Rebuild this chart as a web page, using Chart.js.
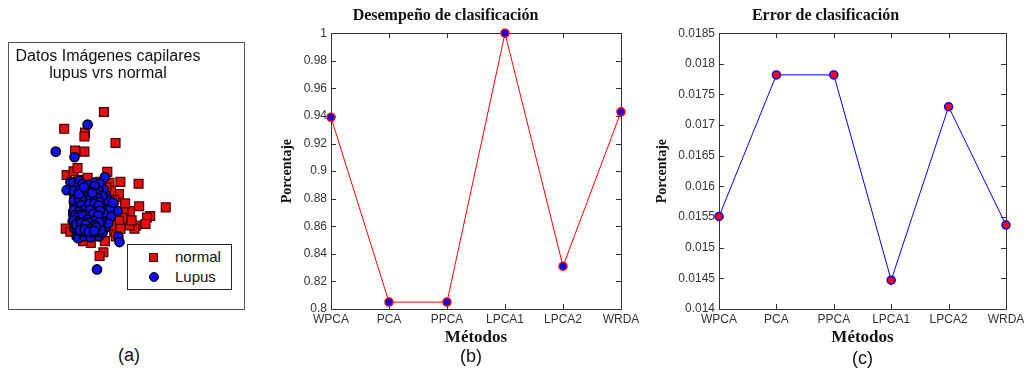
<!DOCTYPE html>
<html>
<head>
<meta charset="utf-8">
<script src="https://cdn.jsdelivr.net/npm/chart.js@4.4.1/dist/chart.umd.min.js"></script>
<style>
  body { margin: 0; background: #fff; width: 1031px; height: 375px; position: relative; overflow: hidden; font-family: "Liberation Sans", Arial, sans-serif; }
  .abs { position: absolute; }
  #boxA { left: 8px; top: 42px; width: 237px; height: 268px; border: 1px solid #555; box-sizing: border-box; }
  #titleA { left: 8px; top: 47px; width: 200px; text-align: center; font-size: 16px; line-height: 17px; color: #111; }
  #legendA { left: 127px; top: 244px; width: 105px; height: 46px; border: 1px solid #222; background: #fff; box-sizing: border-box; font-size: 15px; color: #111; }
  .lab { font-size: 18px; color: #111; }
</style>
</head>
<body>
<div id="boxA" class="abs"></div>
<canvas id="scatterA" class="abs" width="237" height="268" style="left:8px;top:42px"></canvas>
<div id="titleA" class="abs">Datos Imágenes capilares<br>lupus vrs normal</div>
<div id="legendA" class="abs">
  <span class="abs" style="left:21px;top:8px;width:9px;height:9px;background:#e01010;border:1px solid #5a0000;box-sizing:border-box"></span>
  <span class="abs" style="left:47px;top:3px">normal</span>
  <span class="abs" style="left:21px;top:27px;width:10px;height:10px;border-radius:50%;background:#1010e8;border:1px solid #000030;box-sizing:border-box"></span>
  <span class="abs" style="left:47px;top:23px">Lupus</span>
</div>
<canvas id="chartB" class="abs" width="376" height="348" style="left:270px;top:0"></canvas>
<canvas id="chartC" class="abs" width="386" height="348" style="left:645px;top:0"></canvas>
<div class="abs lab" style="left:118px;top:345px">(a)</div>
<div class="abs lab" style="left:460px;top:346px">(b)</div>
<div class="abs lab" style="left:852px;top:348px">(c)</div>

<script>
// metodos de clasificacion
const metodos = ['WPCA', 'PCA', 'PPCA', 'LPCA1', 'LPCA2', 'WRDA'];
const desempeno = [0.939, 0.805, 0.805, 1.0, 0.831, 0.943];
const errorClas = [0.01551, 0.01782, 0.01782, 0.01447, 0.0173, 0.01537];
const ticksDesempeno = [0.8, 0.82, 0.84, 0.86, 0.88, 0.9, 0.92, 0.94, 0.96, 0.98, 1];
const ticksError = [0.014, 0.0145, 0.015, 0.0155, 0.016, 0.0165, 0.017, 0.0175, 0.018, 0.0185];

// datos capilares (x, y)
const normalPts = [
  [0.72, 5.34], [-1.40, 4.45], [-0.29, 4.25], [-0.32, 4.04], [1.34, 3.70], [-0.82, 3.30],
  [-0.32, 3.24], [-1.27, 2.00], [-0.90, 2.20], [-0.69, 2.37], [0.90, 2.17], [1.60, 1.64],
  [2.57, 1.54], [0.10, 1.59], [0.52, 1.64], [1.02, 1.59], [4.02, 0.29], [3.19, -0.17],
  [3.02, -0.25], [2.94, -0.59], [2.44, -0.67], [2.35, -0.84], [2.10, -0.67], [1.94, -0.34],
  [2.10, 0.09], [1.77, 0.09], [1.69, -0.25], [1.52, -0.42], [1.44, 0.84], [1.52, 1.00],
  [1.27, 0.67], [1.02, 0.09], [1.27, -1.00], [0.02, -1.59], [0.77, -1.50], [0.69, -2.09],
  [0.49, -2.29], [-1.32, -0.84], [1.10, 1.17], [0.85, 1.34], [-1.07, -1.00], [0.35, 1.25],
  [0.60, 1.00], [1.00, 0.50], [1.20, 0.25], [0.85, -0.25], [1.10, -0.65], [0.60, -0.85],
  [-0.65, 1.75], [-0.15, 1.85], [2.60, 0.35], [1.85, 0.50], [2.20, -0.40], [1.60, -0.85],
  [-0.40, -1.50], [1.35, -1.25]
];
const lupusPts = [
  [-0.15, 4.67], [-1.85, 3.24], [-0.85, 2.95], [0.77, 1.89], [-1.07, 1.64], [-1.27, 1.20],
  [1.49, -1.25], [1.55, -1.55], [-0.74, -1.25], [-0.65, -1.34], [-0.85, -0.84], [0.35, -3.00],
  [1.02, 0.45], [1.44, 0.09], [0.44, -1.25], [-0.32, -1.25], [0.02, -1.29],
  [-0.80, 1.30], [-0.55, 1.40], [-0.30, 1.45], [0.05, 1.35], [0.35, 1.30], [-0.70, 1.05],
  [-0.45, 1.10], [-0.15, 1.15], [0.20, 1.10], [0.55, 1.05], [0.80, 0.95], [-0.85, 0.80],
  [-0.60, 0.85], [-0.35, 0.90], [-0.05, 0.85], [0.25, 0.80], [0.50, 0.75], [0.75, 0.70],
  [-0.75, 0.55], [-0.50, 0.60], [-0.25, 0.55], [0.00, 0.60], [0.30, 0.55], [0.60, 0.50],
  [0.90, 0.35], [-0.85, 0.30], [-0.60, 0.30], [-0.35, 0.25], [-0.10, 0.30], [0.15, 0.25],
  [0.40, 0.20], [0.70, 0.15], [-0.75, 0.05], [-0.50, 0.00], [-0.25, 0.05], [0.05, 0.00],
  [0.30, -0.05], [0.55, -0.10], [0.85, -0.15], [-0.85, -0.25], [-0.60, -0.20], [-0.35, -0.25],
  [-0.10, -0.20], [0.20, -0.25], [0.45, -0.30], [0.75, -0.40], [-0.70, -0.50], [-0.45, -0.45],
  [-0.20, -0.50], [0.05, -0.45], [0.30, -0.55], [0.60, -0.60], [-0.80, -0.70], [-0.55, -0.75],
  [-0.30, -0.70], [-0.05, -0.75], [0.20, -0.80], [0.45, -0.85], [0.80, -0.80], [-0.65, -0.95],
  [-0.40, -1.00], [-0.15, -0.95], [0.10, -1.05], [0.35, -1.00], [0.65, -1.05], [-0.62, 0.42],
  [-0.38, 0.68], [-0.18, -0.08], [0.12, 0.42], [-0.48, -0.62], [0.02, -0.62], [-0.28, -0.32],
  [0.28, 0.12], [-0.68, 0.18], [-0.12, 0.72], [0.38, -0.38], [-0.58, -0.38], [-0.92, 0.05],
  [-0.95, -0.45], [1.05, 0.25], [1.10, -0.20], [0.95, -0.55], [0.95, 0.65], [1.20, 0.55],
  [0.70, 1.25], [-0.90, 1.60], [-0.60, 1.70], [0.20, 1.60], [0.50, 1.55],
  [-0.72, 1.18], [-0.42, 1.25], [-0.18, 1.30], [0.12, 1.22], [0.42, 1.18], [-0.78, 0.92],
  [-0.48, 0.98], [-0.22, 1.00], [0.08, 0.98], [0.38, 0.92], [0.65, 0.88], [-0.68, 0.68],
  [-0.40, 0.48], [-0.15, 0.62], [0.15, 0.65], [0.42, 0.62], [-0.78, 0.42], [-0.50, 0.20],
  [-0.22, 0.40], [0.05, 0.45], [0.30, 0.35], [0.55, 0.30], [-0.68, -0.08], [-0.40, 0.10],
  [-0.12, 0.15], [0.18, 0.08], [0.42, 0.02], [0.68, -0.02], [-0.75, -0.38], [-0.48, -0.30],
  [-0.22, -0.38], [0.08, -0.32], [0.32, -0.22], [0.58, -0.42], [-0.62, -0.62], [-0.38, -0.58],
  [-0.12, -0.62], [0.15, -0.68], [0.42, -0.70], [-0.70, -0.85], [-0.45, -0.88], [-0.20, -0.85],
  [0.05, -0.90], [0.30, -0.92], [0.55, -0.92], [-0.88, 0.55], [-0.92, -0.10], [-0.90, 1.05],
  [-0.82, -0.55],
  [-0.66, 1.38], [-0.42, 1.52], [-0.08, 1.48], [0.22, 1.42], [-0.88, 1.18], [-0.58, 1.20],
  [-0.30, 1.22], [0.00, 1.12], [0.30, 1.05], [-0.72, 0.78], [-0.45, 0.80], [-0.20, 0.78],
  [0.10, 0.75], [0.38, 0.78], [-0.88, 0.65], [-0.60, 0.70], [-0.30, 0.65], [-0.02, 0.70],
  [0.22, 0.62], [0.48, 0.58], [-0.72, 0.30], [-0.48, 0.40], [-0.28, 0.20], [-0.05, 0.48],
  [0.20, 0.48], [0.45, 0.40], [-0.88, 0.15], [-0.62, 0.05], [-0.38, -0.08], [-0.02, 0.15],
  [0.25, -0.12], [0.50, 0.10], [-0.80, -0.12], [-0.55, -0.10], [-0.30, -0.12], [-0.05, -0.32],
  [0.15, -0.05], [0.42, -0.15], [-0.70, -0.25], [-0.42, -0.18], [-0.15, -0.35], [0.18, -0.42],
  [0.48, -0.50], [-0.88, -0.40], [-0.62, -0.48], [-0.32, -0.48], [-0.08, -0.52], [0.25, -0.68],
  [-0.75, -0.62], [-0.50, -0.55], [-0.25, -0.62], [0.00, -0.85], [0.30, -0.78], [-0.55, -0.92],
  [-0.30, -0.88], [-0.08, -1.00], [0.20, -0.95], [-0.62, 1.00], [-0.35, 1.35], [0.10, 1.05]
];

Chart.defaults.font.family = '"Liberation Sans", Arial, sans-serif';
Chart.defaults.color = '#222';

// caja y marcas hacia adentro, estilo matlab
const boxTicks = {
  id: 'boxTicks',
  beforeDatasetsDraw(chart) {
    const ctx = chart.ctx;
    const a = chart.chartArea;
    const x = chart.scales.x, y = chart.scales.y;
    ctx.save();
    ctx.strokeStyle = '#333';
    ctx.lineWidth = 1;
    ctx.strokeRect(Math.round(a.left) + 0.5, Math.round(a.top) + 0.5,
      Math.round(a.right - a.left), Math.round(a.bottom - a.top));
    ctx.beginPath();
    for (let i = 0; i < y.ticks.length; i++) {
      const py = Math.round(y.getPixelForTick(i)) + 0.5;
      ctx.moveTo(a.left, py); ctx.lineTo(a.left + 5, py);
      ctx.moveTo(a.right, py); ctx.lineTo(a.right - 5, py);
    }
    for (let i = 0; i < x.ticks.length; i++) {
      const px = Math.round(x.getPixelForTick(i)) + 0.5;
      ctx.moveTo(px, a.bottom); ctx.lineTo(px, a.bottom - 5);
      ctx.moveTo(px, a.top); ctx.lineTo(px, a.top + 5);
    }
    ctx.stroke();
    ctx.restore();
  }
};

function lineChart(id, titulo, valores, ticks, colorLinea, colorPunto, yWidth) {
  const ctx = document.getElementById(id).getContext('2d');
  return new Chart(ctx, {
    type: 'line',
    data: {
      labels: metodos,
      datasets: [{
        data: valores,
        borderColor: colorLinea,
        borderWidth: 1,
        backgroundColor: colorPunto,
        pointBackgroundColor: colorPunto,
        pointBorderColor: colorLinea,
        pointBorderWidth: 1.5,
        pointRadius: 4,
        tension: 0,
        clip: false
      }]
    },
    options: {
      responsive: false,
      animation: false,
      layout: { padding: { left: 0, right: 25, top: 0, bottom: 0 } },
      plugins: {
        legend: { display: false },
        tooltip: { enabled: false },
        title: {
          display: true,
          text: titulo,
          color: '#111',
          font: { family: '"Liberation Serif", "Times New Roman", serif', size: 16, weight: 'bold' },
          padding: { top: 6, bottom: 8 }
        }
      },
      scales: {
        x: {
          grid: { display: false, drawTicks: false },
          border: { display: false },
          ticks: { color: '#333', font: { size: 12 }, padding: 3, maxRotation: 0, autoSkip: false },
          title: {
            display: true, text: 'Métodos', color: '#111',
            font: { family: '"Liberation Serif", "Times New Roman", serif', size: 17, weight: 'bold' },
            padding: { top: 0, bottom: 0 }
          },
          afterFit: s => { s.height = 39; }
        },
        y: {
          min: ticks[0],
          max: ticks[ticks.length - 1],
          grid: { display: false, drawTicks: false },
          border: { display: false },
          afterBuildTicks: s => { s.ticks = ticks.map(v => ({ value: v })); },
          ticks: { color: '#333', font: { size: 12 }, padding: 4, callback: v => String(v) },
          title: {
            display: true, text: 'Porcentaje', color: '#111',
            font: { family: '"Liberation Serif", "Times New Roman", serif', size: 14, weight: 'bold' },
            padding: { top: 9, bottom: 0 }
          },
          afterFit: s => { s.width = yWidth; }
        }
      }
    },
    plugins: [boxTicks]
  });
}

// (a) dispersion
new Chart(document.getElementById('scatterA').getContext('2d'), {
  type: 'scatter',
  data: {
    datasets: [{
      label: 'normal',
      data: normalPts.map(p => ({ x: p[0], y: p[1] })),
      pointStyle: 'rect',
      pointRadius: 6.3,
      backgroundColor: '#e01010',
      borderColor: '#4a0000',
      borderWidth: 1.2,
      order: 1,
      clip: false
    }, {
      label: 'Lupus',
      data: lupusPts.map(p => ({ x: p[0], y: p[1] })),
      pointStyle: 'circle',
      pointRadius: 4.6,
      backgroundColor: '#1010e8',
      borderColor: '#000010',
      borderWidth: 1.5,
      order: 0,
      clip: false
    }]
  },
  options: {
    responsive: false,
    animation: false,
    layout: { padding: 0 },
    plugins: { legend: { display: false }, tooltip: { enabled: false } },
    scales: {
      x: { type: 'linear', display: false, min: -4.0, max: 7.85 },
      y: { type: 'linear', display: false, min: -4.75, max: 8.65 }
    }
  }
});

lineChart('chartB', 'Desempeño de clasificación', desempeno, ticksDesempeno, '#ff0000', '#0000ff', 61);
lineChart('chartC', 'Error de clasificación', errorClas, ticksError, '#0000ff', '#ff0000', 74);
</script>
</body>
</html>
